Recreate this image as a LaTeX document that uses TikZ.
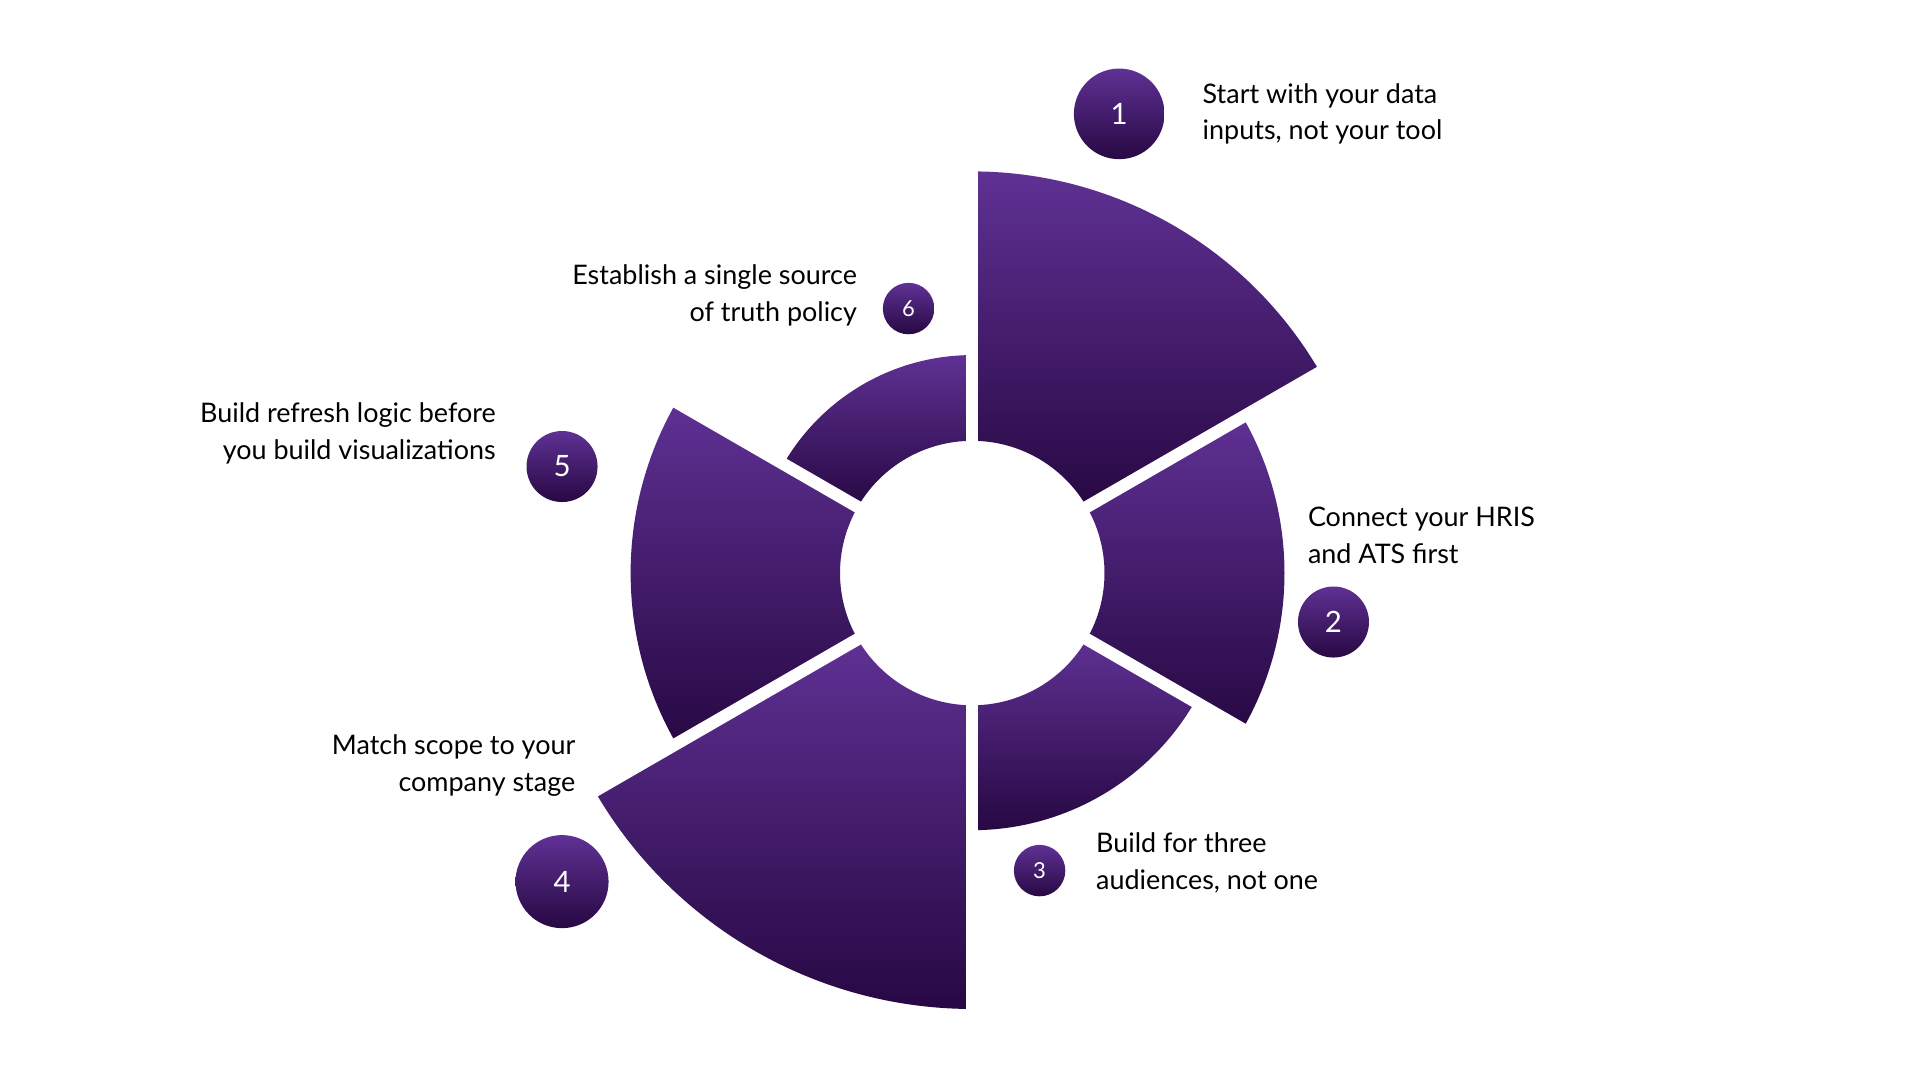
\documentclass[tikz,border=0pt]{standalone}
\usepackage{fontspec}
\setmainfont{Lato}
\begin{document}
\begin{tikzpicture}[x=1pt,y=1pt,
  seg/.style={top color=purpleA,bottom color=purpleB,draw=none},
  badge/.style={circle,top color=purpleA,bottom color=purpleB,text=white,inner sep=0pt,font=\fontsize{24}{24}\selectfont},
  lbl/.style={font=\fontsize{22}{30}\selectfont,text=black,inner sep=0pt}]
\definecolor{purpleA}{HTML}{5F3194}
\definecolor{purpleB}{HTML}{270843}
\useasboundingbox (0,0) rectangle (1568,882);
\fill[white] (0,0) rectangle (1568,882);
\begin{scope}[shift={(794,414)}]
\newcommand{\mysegment}[3]{\path[seg] (#1:108pt) arc[start angle=#1,end angle=#2,radius=108pt] -- (#2:#3) arc[start angle=#2,end angle=#1,radius=#3] -- cycle;}
\mysegment{90}{30}{328pt}
\mysegment{30}{-30}{255pt}
\mysegment{-30}{-90}{210pt}
\mysegment{-90}{-150}{356pt}
\mysegment{-150}{-210}{279pt}
\mysegment{150}{90}{178pt}
\foreach \a in {90,30,-30,-90,-150,150} \draw[white,line width=10pt] (0,0) -- (\a:420pt);
\end{scope}
\node[badge,minimum size=74pt] (n1) at (914,789) {1};
\node[badge,minimum size=58pt] (n2) at (1089,374) {2};
\node[badge,minimum size=42pt,font=\fontsize{18}{18}\selectfont] (n3) at (849,171) {3};
\node[badge,minimum size=76pt] (n4) at (459,162) {4};
\node[badge,minimum size=58pt] (n5) at (459,501) {5};
\node[badge,minimum size=42pt,font=\fontsize{18}{18}\selectfont] (n6) at (742,630) {6};
\node[lbl,anchor=west,align=left] (t1) at (982,789) {Start with your data\\inputs, not your tool};
\node[lbl,anchor=west,align=left] (t2) at (1068,445) {Connect your HRIS\\and ATS first};
\node[lbl,anchor=west,align=left] (t3) at (895,177) {Build for three\\audiences, not one};
\node[lbl,anchor=east,align=right] (t4) at (470,257) {Match scope to your\\company stage};
\node[lbl,anchor=east,align=right] (t5) at (405,528) {Build refresh logic before\\you build visualizations};
\node[lbl,anchor=east,align=right] (t6) at (700,641) {Establish a single source\\of truth policy};
\end{tikzpicture}
\end{document}
